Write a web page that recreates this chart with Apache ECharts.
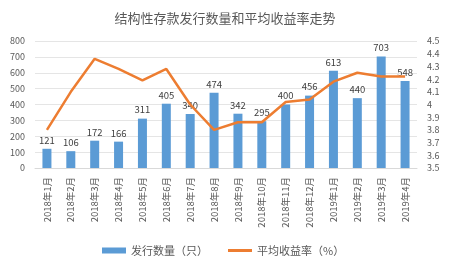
<!DOCTYPE html>
<html><head><meta charset="utf-8">
<script src="https://cdn.jsdelivr.net/npm/echarts@6/dist/echarts.min.js"></script>
<style>html,body{margin:0;padding:0;background:#fff}#c{width:450px;height:270px}</style>
</head><body><div id="c"></div>
<script>
const categories = ['2018年1月','2018年2月','2018年3月','2018年4月','2018年5月','2018年6月','2018年7月','2018年8月','2018年9月','2018年10月','2018年11月','2018年12月','2019年1月','2019年2月','2019年3月','2019年4月'];
const issueCount = [121,106,172,166,311,405,340,474,342,295,400,456,613,440,703,548];
const avgYield = [3.80,4.10,4.36,4.28,4.19,4.28,4.00,3.80,3.86,3.86,4.02,4.04,4.18,4.25,4.22,4.22];
const leftTicks = {min:0,max:800,interval:100};
const rightTicks = {min:3.5,max:4.5,interval:0.1};
const font = '"Noto Sans CJK SC", "Microsoft YaHei", sans-serif';
const chart = echarts.init(document.getElementById('c'));
chart.setOption({
  animation:false,
  textStyle:{fontFamily:font},
  title:{text:'结构性存款发行数量和平均收益率走势',left:'center',top:7,textStyle:{fontSize:13,fontWeight:'normal',color:'#595959',fontFamily:font}},
  legend:{bottom:9,left:97,itemWidth:24,itemHeight:6,itemGap:20,textStyle:{fontSize:11,color:'#595959'},
    data:[{name:'发行数量（只）',icon:'rect'},{name:'平均收益率（%）',icon:'path://M0 0h24v3H0z'}]},
  grid:{left:35,right:33,top:41,bottom:102},
  xAxis:{type:'category',data:categories,axisTick:{show:false},axisLine:{lineStyle:{color:'#d9d9d9'}},
    axisLabel:{rotate:90,fontSize:9.5,color:'#595959',interval:0,margin:9}},
  yAxis:[
    {type:'value',min:leftTicks.min,max:leftTicks.max,interval:leftTicks.interval,axisLabel:{fontSize:9,color:'#595959',margin:10},
      splitLine:{lineStyle:{color:'#e5e5e5'}},axisLine:{show:false},axisTick:{show:false}},
    {type:'value',min:rightTicks.min,max:rightTicks.max,interval:rightTicks.interval,axisLabel:{fontSize:9,color:'#595959',margin:10,formatter:v=>String(+v.toFixed(1))},
      splitLine:{show:false},axisLine:{show:false},axisTick:{show:false}}
  ],
  series:[
    {name:'发行数量（只）',type:'bar',data:issueCount,barWidth:9,itemStyle:{color:'#5B9BD5'},
      label:{show:true,position:'top',fontSize:9.5,color:'#404040',distance:4}},
    {name:'平均收益率（%）',type:'line',yAxisIndex:1,data:avgYield,showSymbol:false,symbol:'none',
      lineStyle:{color:'#ED7D31',width:2.5},itemStyle:{color:'#ED7D31'}}
  ]
});
</script></body></html>
